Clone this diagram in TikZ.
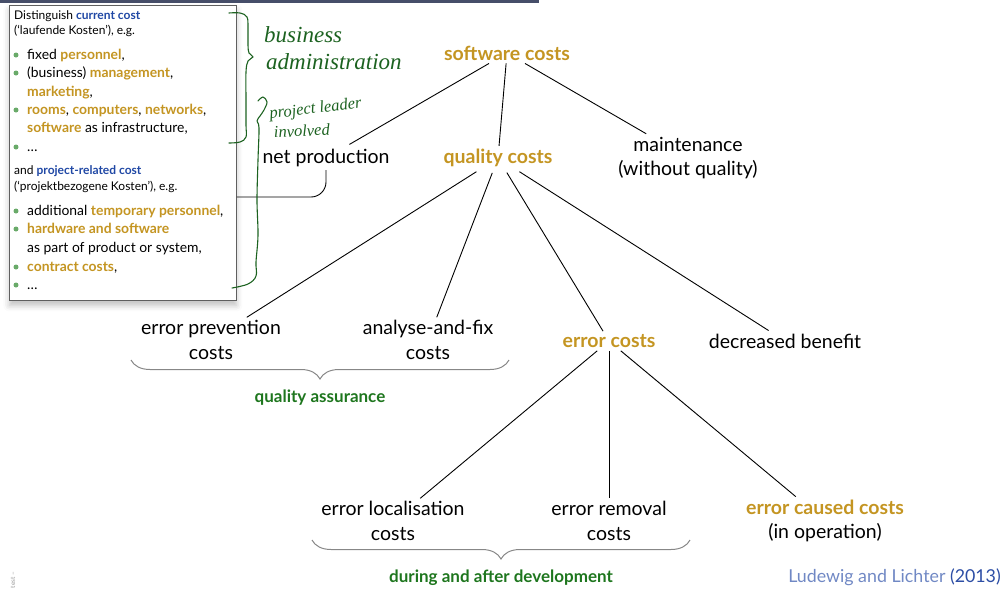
\documentclass[tikz,border=0pt]{standalone}
\usepackage{fontspec}
\setmainfont{Lato}
\newfontfamily\handfont{Liberation Serif}
\usetikzlibrary{shadows.blur,decorations.pathreplacing,calc}

\definecolor{gold}{RGB}{196,149,34}
\definecolor{termblue}{RGB}{32,72,165}
\definecolor{labgreen}{RGB}{30,118,30}
\definecolor{dotgreen}{RGB}{105,170,105}
\definecolor{inkgreen}{RGB}{28,98,32}
\definecolor{barcol}{RGB}{70,78,105}
\definecolor{boxgray}{RGB}{95,95,95}
\definecolor{citeblue}{RGB}{112,136,196}
\definecolor{yearblue}{RGB}{45,78,165}
\definecolor{bracegray}{RGB}{135,135,135}

\tikzset{
  lbl/.style={align=center, inner sep=3pt, font=\fontsize{19.5}{24.5}\selectfont},
  hot/.style={lbl, text=gold, font=\fontsize{19.5}{24.5}\selectfont\bfseries},
  edge/.style={draw=black, line width=0.9pt},
  hdr/.style={anchor=base west, inner sep=0pt, font=\fontsize{12}{14}\selectfont},
  itm/.style={anchor=base west, inner sep=0pt, font=\fontsize{13.9}{16}\selectfont},
  dot/.style={circle, fill=dotgreen, inner sep=0pt, minimum size=5pt},
  grouplbl/.style={text=labgreen, font=\fontsize{17}{20}\selectfont\bfseries},
  grp/.style={draw=bracegray, line width=1pt, decorate,
              decoration={brace, mirror, amplitude=19pt}},
  ink/.style={draw=inkgreen, line width=1.1pt, line cap=round, line join=round},
  inktext/.style={text=inkgreen, inner sep=0pt, anchor=base west},
}

\begin{document}
\begin{tikzpicture}[x=1pt, y=-1pt]
\useasboundingbox (0,0) rectangle (1003,592);

% slide header rule
\fill[barcol] (0,0) rectangle (539,2.5);

% ---------------- cost overview box ----------------
\node[draw=boxgray, line width=0.8pt, fill=white, anchor=north west,
      minimum width=227pt, minimum height=295pt, inner sep=0pt,
      blur shadow={shadow xshift=0pt, shadow yshift=-5pt,
                   shadow blur radius=6pt, shadow opacity=25}] (box) at (9,5) {};

\node[hdr] (h1) at (14,19) {Distinguish \textcolor{termblue}{\bfseries current cost}};
\node[hdr] (h2) at (14,34.5) {(‘laufende Kosten’), e.g.};

\node[dot] (b1) at (16,55) {};
\node[itm] (i1) at (27,59.5) {fixed \textcolor{gold}{\bfseries personnel},};
\node[dot] (b2) at (16,73) {};
\node[itm] (i2) at (27,77.5) {(business) \textcolor{gold}{\bfseries management},};
\node[itm] (i3) at (27,96) {\textcolor{gold}{\bfseries marketing},};
\node[dot] (b3) at (16,110) {};
\node[itm] (i4) at (27,114.5) {\textcolor{gold}{\bfseries rooms}, \textcolor{gold}{\bfseries computers}, \textcolor{gold}{\bfseries networks},};
\node[itm] (i5) at (27,132.5) {\textcolor{gold}{\bfseries software} as infrastructure,};
\node[dot] (b4) at (16,147) {};
\node[itm] (i6) at (27,151) {…};

\node[hdr] (h3) at (14,174.5) {and \textcolor{termblue}{\bfseries project-related cost}};
\node[hdr] (h4) at (14,190.5) {(‘projektbezogene Kosten’), e.g.};

\node[dot] (b5) at (16,211) {};
\node[itm] (i7) at (27,215.5) {additional \textcolor{gold}{\bfseries temporary personnel},};
\node[dot] (b6) at (16,229) {};
\node[itm] (i8) at (27,233.5) {\textcolor{gold}{\bfseries hardware and software}};
\node[itm] (i9) at (27,252) {as part of product or system,};
\node[dot] (b7) at (16,267) {};
\node[itm] (i10) at (27,271.5) {\textcolor{gold}{\bfseries contract costs},};
\node[dot] (b8) at (16,285) {};
\node[itm] (i11) at (27,289.5) {…};

% ---------------- cost tree ----------------
\node[hot] (sw) at (507,53) {software costs};
\node[lbl] (np) at (326,158) {net production};
\node[hot] (qc) at (498,158) {quality costs};
\node[lbl] (mt) at (688,158) {maintenance\\(without quality)};
\node[lbl] (ep) at (211,340) {error prevention\\costs};
\node[lbl] (af) at (428,340) {analyse-and-fix\\costs};
\node[hot] (ec) at (609,341) {error costs};
\node[lbl] (db) at (785,341) {decreased benefit};
\node[lbl] (el) at (393,521) {error localisation\\costs};
\node[lbl] (er) at (609,521) {error removal\\costs};
\node[lbl] (cc) at (825,521) {\textcolor{gold}{\bfseries error caused costs}\\(in operation)};

\draw[edge, shorten >=3pt] (sw) -- (np);
\draw[edge] (sw) -- (qc);
\draw[edge] (sw) -- (mt);
\draw[edge, shorten <=3pt] (qc) -- (ep);
\draw[edge, shorten <=3pt] (qc) -- (af);
\draw[edge, shorten <=3pt] (qc) -- (ec);
\draw[edge, shorten <=3pt] (qc) -- (db);
\draw[edge] (ec) -- (el);
\draw[edge] (ec) -- (er);
\draw[edge] (ec) -- (cc);

% net production belongs to the project-related part of the box
\draw[edge, rounded corners=15pt] (np.south) |- (box.east |- 0,197);

% grouping braces
\coordinate (qa1) at (131,360);
\coordinate (qa2) at (509,360);
\draw[grp] (qa1) -- (qa2);
\node[grouplbl] (qa) at (320,398) {quality assurance};

\coordinate (dv1) at (312,540);
\coordinate (dv2) at (690,540);
\draw[grp] (dv1) -- (dv2);
\node[grouplbl] (dv) at (501,578) {during and after development};

% reference
\node[anchor=east, inner sep=0pt, font=\fontsize{17.8}{20}\selectfont] (cite) at (1001,577)
  {\textcolor{citeblue}{Ludewig and Lichter} \textcolor{yearblue}{(2013)}};

% footer mark
\node[rotate=90, text=black!40, inner sep=0pt, font=\fontsize{6.5}{7}\selectfont] (foot) at (13,580) {test –};

% ---------------- hand-written notes ----------------
\draw[ink] plot[smooth, tension=0.6] coordinates {
  (229,13) (240,13) (247,17) (248,28) (248,45) (249,53) (253,57)
  (248,61) (246,72) (246,100) (246,125) (246,137) (240,142) (229,143)};
\node[inktext, font=\handfont\itshape\fontsize{23}{23}\selectfont] (ba1) at (264,42) {business};
\node[inktext, font=\handfont\itshape\fontsize{23}{23}\selectfont] (ba2) at (266,69) {administration};

\draw[ink] plot[smooth, tension=0.6] coordinates {
  (258,101) (263,97) (267,102) (264,110) (260,116) (257,121) (259,128)
  (258,160) (257,200) (258,235) (256,262) (256,276) (248,284) (232,288)};
\node[inktext, rotate=7, font=\handfont\itshape\fontsize{16.5}{17}\selectfont] (pl1) at (270,119) {project leader};
\node[inktext, rotate=3, font=\handfont\itshape\fontsize{16.5}{17}\selectfont] (pl2) at (274,138) {involved};

\end{tikzpicture}
\end{document}
